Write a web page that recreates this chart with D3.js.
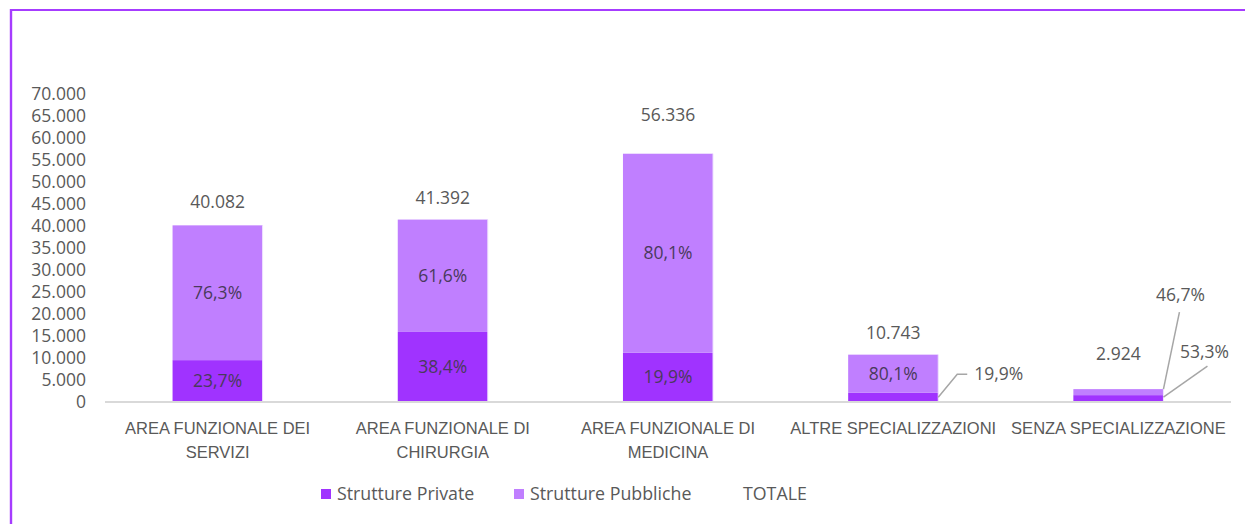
<!DOCTYPE html>
<html>
<head>
<meta charset="utf-8">
<script src="https://cdn.jsdelivr.net/npm/d3@7"></script>
<style>
  html, body { margin: 0; padding: 0; background: #fff; }
  svg { display: block; font-family: "Open Sans", "Noto Sans", sans-serif; }
</style>
</head>
<body>
<svg id="chart" width="1245" height="524"></svg>
<script>
// Posti per area funzionale: totali e ripartizione pubblico / privato
const categories = [
  "AREA FUNZIONALE DEI\nSERVIZI",
  "AREA FUNZIONALE DI\nCHIRURGIA",
  "AREA FUNZIONALE DI\nMEDICINA",
  "ALTRE SPECIALIZZAZIONI",
  "SENZA SPECIALIZZAZIONE"
];
const totals = [40082, 41392, 56336, 10743, 2924];
const privateShare = [23.7, 38.4, 19.9, 19.9, 53.3];
const publicShare = [76.3, 61.6, 80.1, 80.1, 46.7];
const yTicks = [0, 5000, 10000, 15000, 20000, 25000, 30000, 35000, 40000, 45000, 50000, 55000, 60000, 65000, 70000];
const seriesNames = ["Strutture Private", "Strutture Pubbliche", "TOTALE"];

const W = 1245, H = 524;
const colPrivate = "#A033FF";
const colPublic = "#C07FFF";
const textGray = "#595959";
const inBarText = "#4a3a5c";

const it = d3.formatLocale({ decimal: ",", thousands: ".", grouping: [3], currency: ["€", ""] });
const fmtInt = it.format(",.0f");
const fmtPct = v => it.format(".1f")(v) + "%";

const rows = categories.map((c, i) => ({
  cat: c,
  total: totals[i],
  priv: totals[i] * privateShare[i] / 100,
  pub: totals[i] * publicShare[i] / 100,
  privPct: privateShare[i],
  pubPct: publicShare[i]
}));

const svg = d3.select("#chart");
svg.append("rect").attr("width", W).attr("height", H).attr("fill", "#fff");

// cornice
svg.append("line").attr("x1", 11).attr("x2", W).attr("y1", 10).attr("y2", 10)
  .attr("stroke", "#A63CFF").attr("stroke-width", 2.2);
svg.append("line").attr("x1", 11).attr("x2", 11).attr("y1", 9).attr("y2", H)
  .attr("stroke", "#A63CFF").attr("stroke-width", 2.4);

const x = d3.scaleBand().domain(categories).range([105, 1231]).paddingInner(0.6).paddingOuter(0.3);
const y = d3.scaleLinear().domain([0, 70000]).range([402, 93.5]);

// asse Y (solo etichette)
const yAxis = svg.append("g").attr("transform", "translate(86,0)")
  .call(d3.axisLeft(y).tickValues(yTicks).tickFormat(fmtInt).tickSize(0).tickPadding(0));
yAxis.select(".domain").remove();
yAxis.selectAll("text").attr("fill", textGray).style("font-size", "17.5px")
  .style("font-family", "'Open Sans', sans-serif");

// barre impilate
const stack = d3.stack().keys(["priv", "pub"])(rows);
const colors = { priv: colPrivate, pub: colPublic };
stack.forEach(layer => {
  svg.append("g").selectAll("rect").data(layer).join("rect")
    .attr("x", d => x(d.data.cat))
    .attr("width", x.bandwidth())
    .attr("y", d => y(d[1]))
    .attr("height", d => y(d[0]) - y(d[1]))
    .attr("fill", colors[layer.key]);
});
// sottile bordo chiaro a destra delle barre
svg.append("g").selectAll("line").data(rows).join("line")
  .attr("x1", d => x(d.cat) + x.bandwidth()).attr("x2", d => x(d.cat) + x.bandwidth())
  .attr("y1", d => y(d.total)).attr("y2", y(0))
  .attr("stroke", "#f1e4ff").attr("stroke-width", 1);

// asse X
svg.append("line").attr("x1", 105).attr("x2", 1231).attr("y1", y(0)).attr("y2", y(0))
  .attr("stroke", "#d9d9d9").attr("stroke-width", 2);

const xAxis = svg.append("g").attr("transform", `translate(0,${y(0)})`)
  .call(d3.axisBottom(x).tickSize(0).tickFormat(""));
xAxis.select(".domain").remove();
xAxis.selectAll(".tick").each(function (d) {
  const t = d3.select(this).append("text")
    .attr("fill", textGray).attr("text-anchor", "middle")
    .style("font-size", "16.5px");
  d.split("\n").forEach((ln, k) => {
    t.append("tspan").attr("x", 0).attr("y", 32 + k * 23.5).text(ln);
  });
});

// etichette percentuali interne
const inside = [];
rows.forEach((r, i) => {
  if (i !== 4) inside.push({ cat: r.cat, v: r.pubPct, y0: r.priv, y1: r.total });
  if (i < 3) inside.push({ cat: r.cat, v: r.privPct, y0: 0, y1: r.priv });
});
svg.append("g").selectAll("text").data(inside).join("text")
  .attr("x", d => x(d.cat) + x.bandwidth() / 2)
  .attr("y", d => (y(d.y0) + y(d.y1)) / 2)
  .attr("dy", "0.35em").attr("text-anchor", "middle")
  .attr("fill", inBarText).style("font-size", "17.5px")
  .text(d => fmtPct(d.v));

// etichette dei totali
const totalLift = [23, 22, 39, 22, 35];
svg.append("g").selectAll("text").data(rows).join("text")
  .attr("x", d => x(d.cat) + x.bandwidth() / 2)
  .attr("y", (d, i) => y(d.total) - totalLift[i])
  .attr("dy", "0.35em").attr("text-anchor", "middle")
  .attr("fill", textGray).style("font-size", "17.5px")
  .text(d => fmtInt(d.total));

// etichette esterne con linee guida
const callouts = [
  { i: 3, key: "priv", pts: [[0, 0], [19, -23], [29, -23]], lx: 36, ly: -23, anchor: "start" },
  { i: 4, key: "pub", pts: [[0, 0], [16, -77]], lx: 17, ly: -94, anchor: "middle" },
  { i: 4, key: "priv", pts: [[0, 0], [44, -31]], lx: 41, ly: -45, anchor: "middle" }
];
callouts.forEach(c => {
  const r = rows[c.i];
  const ax = x(r.cat) + x.bandwidth();
  const ay = c.key === "priv" ? (c.i === 3 ? (y(0) + y(r.priv)) / 2 : (y(0) + y(r.priv)) / 2 - 1.5) : y(r.total);
  svg.append("polyline")
    .attr("points", c.pts.map(p => [ax + p[0], ay + p[1]].join(",")).join(" "))
    .attr("fill", "none").attr("stroke", "#a6a6a6").attr("stroke-width", 1.5);
  svg.append("text")
    .attr("x", ax + c.lx).attr("y", ay + c.ly).attr("dy", "0.35em")
    .attr("text-anchor", c.anchor)
    .attr("fill", textGray).style("font-size", "17.5px")
    .text(fmtPct(c.key === "priv" ? r.privPct : r.pubPct));
});

// legenda
const legend = svg.append("g").attr("transform", "translate(0,494)");
const legItems = [
  { name: seriesNames[0], color: colPrivate, x: 321 },
  { name: seriesNames[1], color: colPublic, x: 514 },
  { name: seriesNames[2], color: null, x: 727 }
];
legItems.forEach(l => {
  if (l.color) {
    legend.append("rect").attr("x", l.x).attr("y", -5).attr("width", 10).attr("height", 10).attr("fill", l.color);
  }
  legend.append("text").attr("x", l.x + 16).attr("dy", "0.35em")
    .attr("fill", textGray).style("font-size", "17.8px").text(l.name);
});
</script>
</body>
</html>
